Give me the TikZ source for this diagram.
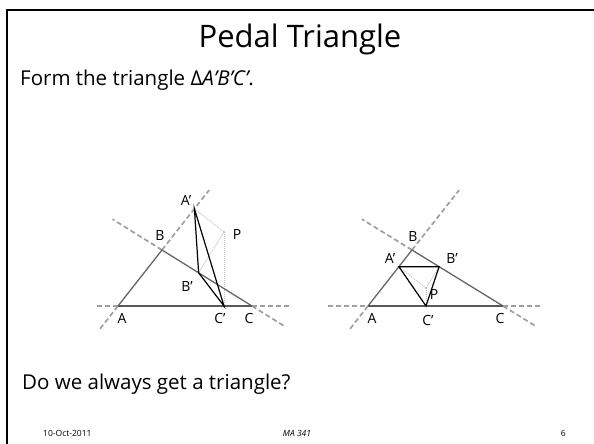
\documentclass[tikz,border=0pt]{standalone}
\usepackage{fontspec}
\setmainfont{Open Sans}
\usetikzlibrary{calc}
\begin{document}
\begin{tikzpicture}[x=1pt,y=-1pt,
  side/.style={draw=gray!80!black, line width=1.3pt},
  base/.style={draw=gray!70!black, line width=2.6pt},
  ext/.style={draw=gray!75, dash pattern=on 5pt off 3pt, line width=1.7pt},
  pedal/.style={draw=black, line width=1.2pt},
  perp/.style={draw=gray!45, densely dotted, line width=1pt},
  lab/.style={font=\fontsize{14}{16}\selectfont, inner sep=0pt},
  foot/.style={font=\fontsize{8.5}{10}\selectfont, anchor=base}]
\useasboundingbox (0,0) rectangle (594,444);
\draw[line width=2pt] (7,444) -- (7,10) -- (594,10);

\node[font=\fontsize{31}{36}\selectfont, anchor=base] (title) at (300,48) {Pedal Triangle};
\node[font=\fontsize{20.5}{24}\selectfont, anchor=base west, inner sep=0pt] (form) at (20,85) {Form the triangle Δ\textit{A’B’C’}.};
\node[font=\fontsize{20.5}{24}\selectfont, anchor=base west, inner sep=0pt] (ask) at (22,389) {Do we always get a triangle?};
\node[foot, anchor=base west, inner sep=0pt] (date) at (43,436) {10-Oct-2011};
\node[foot, font=\fontsize{8.5}{10}\selectfont\itshape] (course) at (297,436) {MA 341};
\node[foot, anchor=base east, inner sep=0pt] (page) at (566,436) {6};

% ---------- left figure ----------
\coordinate (A1) at (118,306);
\coordinate (B1) at (162,250);
\coordinate (C1) at (252,306);
\coordinate (P1) at (224,232);
\coordinate (A1p) at ($(A1)!(P1)!(B1)$);
\coordinate (B1p) at ($(B1)!(P1)!(C1)$);
\coordinate (C1p) at ($(A1)!(P1)!(C1)$);
\coordinate (L1a) at ($(A1)!2.07!(B1)$);
\coordinate (L1b) at ($(A1)!-0.42!(B1)$);
\coordinate (M1a) at ($(B1)!-0.55!(C1)$);
\coordinate (M1b) at ($(B1)!1.36!(C1)$);
\coordinate (N1a) at (97,306);
\coordinate (N1b) at (290,306);
\draw[ext] (B1) -- (L1a);
\draw[ext] (A1) -- (L1b);
\draw[ext] (B1) -- (M1a);
\draw[ext] (C1) -- (M1b);
\draw[ext] (N1a) -- (A1);
\draw[ext] (C1) -- (N1b);
\draw[perp] (P1) -- (A1p);
\draw[perp] (P1) -- (B1p);
\draw[perp] (P1) -- (C1p);
\draw[side] (A1) -- (B1) -- (C1);
\draw[base] (A1) -- (C1);
\draw[pedal] (A1p) -- (B1p) -- (C1p) -- cycle;
\fill[gray!60] (P1) circle (0.9);
\node[lab] (lA1p) at (186,200) {A’};
\node[lab] (lB1) at (160,236) {B};
\node[lab] (lP1) at (237,235) {P};
\node[lab] (lB1p) at (187,286) {B’};
\node[lab] (lA1) at (122,318) {A};
\node[lab] (lC1p) at (220,318) {C’};
\node[lab] (lC1) at (249,318) {C};

% ---------- right figure ----------
\coordinate (A2) at (368,306);
\coordinate (B2) at (412,250);
\coordinate (C2) at (503,306);
\coordinate (P2) at (426,288);
\coordinate (A2p) at ($(A2)!(P2)!(B2)$);
\coordinate (B2p) at ($(B2)!(P2)!(C2)$);
\coordinate (C2p) at ($(A2)!(P2)!(C2)$);
\coordinate (L2a) at ($(A2)!2.07!(B2)$);
\coordinate (L2b) at ($(A2)!-0.42!(B2)$);
\coordinate (M2a) at ($(B2)!-0.55!(C2)$);
\coordinate (M2b) at ($(B2)!1.36!(C2)$);
\coordinate (N2a) at (328,306);
\coordinate (N2b) at (541,306);
\draw[ext] (B2) -- (L2a);
\draw[ext] (A2) -- (L2b);
\draw[ext] (B2) -- (M2a);
\draw[ext] (C2) -- (M2b);
\draw[ext] (N2a) -- (A2);
\draw[ext] (C2) -- (N2b);
\draw[perp] (P2) -- (A2p);
\draw[perp] (P2) -- (B2p);
\draw[perp] (P2) -- (C2p);
\draw[side] (A2) -- (B2) -- (C2);
\draw[base] (A2) -- (C2);
\draw[pedal] (A2p) -- (B2p) -- (C2p) -- cycle;
\fill[gray!60] (P2) circle (0.9);
\node[lab] (lA2p) at (390,258) {A’};
\node[lab] (lB2) at (413,237) {B};
\node[lab] (lB2p) at (452,259) {B’};
\node[lab] (lP2) at (434,294) {P};
\node[lab] (lA2) at (372,318) {A};
\node[lab] (lC2p) at (428,320) {C’};
\node[lab] (lC2) at (500,318) {C};
\end{tikzpicture}
\end{document}
